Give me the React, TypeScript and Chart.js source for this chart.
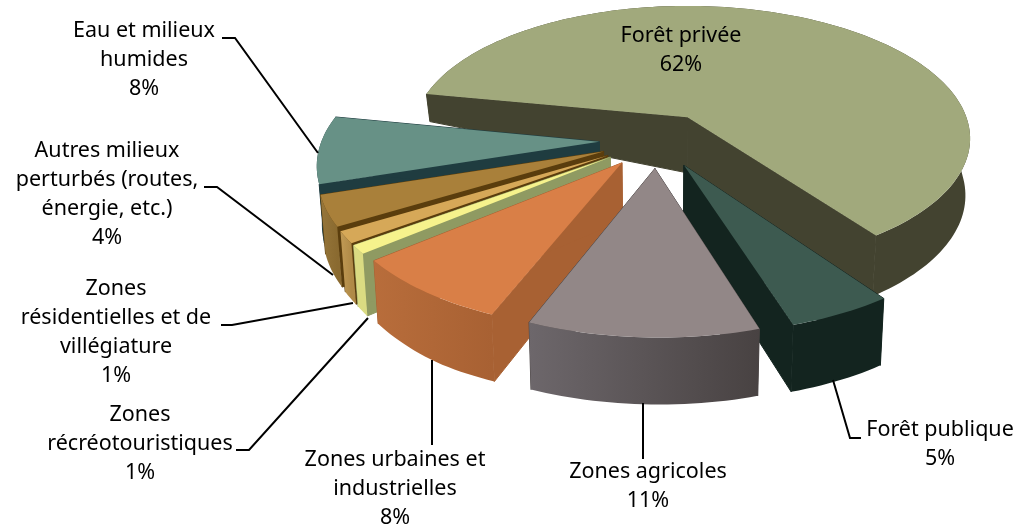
import React, { useEffect, useRef } from "react";
import { Chart, registerables } from "chart.js";

Chart.register(...registerables);

const categories = [
  "Forêt privée",
  "Forêt publique",
  "Zones agricoles",
  "Zones urbaines et industrielles",
  "Zones récréotouristiques",
  "Zones résidentielles et de villégiature",
  "Autres milieux perturbés (routes, énergie, etc.)",
  "Eau et milieux humides",
];
const values = [62, 5, 11, 8, 1, 1.4, 3.6, 8];

const topColors = ["#A1A97C", "#3D5A50", "#928787", "#D97F47", "#F6F28C", "#D6A858", "#A9803A", "#679186"];
const wallColors = ["#434330", "#13241F", "#4C4646", "#A86133", "#8F9A62", "#5A3D0D", "#5A3D0D", "#1F3C40"];
const outerLeft = ["#434330", "#13241F", "#6D676B", "#B86D3B", "#DADB82", "#C19A55", "#96763A", "#1F3C40"];
const outerRight = ["#434330", "#13241F", "#484242", "#A86133", "#DADB82", "#B08A47", "#8A6A30", "#1F3C40"];

const labelLines = [
  ["Forêt privée"],
  ["Forêt publique"],
  ["Zones agricoles"],
  ["Zones urbaines et", "industrielles"],
  ["Zones", "récréotouristiques"],
  ["Zones", "résidentielles et de", "villégiature"],
  ["Autres milieux", "perturbés (routes,", "énergie, etc.)"],
  ["Eau et milieux", "humides"],
];
const labelCentreX = [681, 940, 648, 395, 140, 116, 107, 144];
const labelFirstY = [36, 430, 472, 460, 415, 289, 151, 31];
const leaders: number[][][] = [
  [],
  [[833, 380], [850, 438], [861, 438]],
  [[643, 403], [643, 459]],
  [[432, 360], [432, 445]],
  [[236, 450], [249, 450], [368, 318]],
  [[221, 325], [232, 325], [353, 303]],
  [[204, 187], [217, 187], [333, 275]],
  [[222, 38], [235, 38], [318, 153]],
];

const FONT = '21.5px "Noto Sans"';
const LINE_H = 29;
const TILT = 0.476;
const PERSP_V = 0.15;
const PERSP_U = 0.012;
const BOTTOM_X = 0.985;

const depth = (v: number) => {
  if (v < -0.17) return Math.max(10, 56 + 147 * (v + 0.17));
  if (v < 0.7) return 56 + ((v + 0.17) / 0.87) * 5;
  return Math.min(67, 61 + (v - 0.7) * 20);
};

const pie3d = {
  id: "pie3d",
  beforeDatasetsDraw(chart: any) {
    const ctx = chart.ctx as CanvasRenderingContext2D;
    const arcs = chart.getDatasetMeta(0).data as any[];
    const order = arcs
      .map((a, i) => ({ i, k: Math.sin((a.startAngle + a.endAngle) / 2) }))
      .sort((p, q) => p.k - q.k);

    for (const { i } of order) {
      const a = arcs[i];
      const R = a.outerRadius;
      const off = (a.options.offset || 0) / R;
      const mid = (a.startAngle + a.endAngle) / 2;
      const ou = Math.cos(mid) * off;
      const ov = Math.sin(mid) * off;
      const project = (u: number, v: number) => {
        const w = 1 - PERSP_V * v - PERSP_U * u;
        const x = a.x + (R * u) / w;
        const y = a.y + (R * TILT * v) / w;
        return {
          x,
          y,
          bx: a.x + (x - a.x) * BOTTOM_X,
          by: y + depth(v),
        };
      };
      const vertex = project(ou, ov);
      const steps = Math.max(4, Math.ceil((a.endAngle - a.startAngle) * 40));
      const rim: any[] = [];
      for (let s = 0; s <= steps; s++) {
        const t = a.startAngle + ((a.endAngle - a.startAngle) * s) / steps;
        rim.push(project(ou + Math.cos(t), ov + Math.sin(t)));
      }
      ctx.lineWidth = 1;
      ctx.lineJoin = "round";
      const quad = (p: any) => {
        ctx.beginPath();
        ctx.moveTo(vertex.x, vertex.y);
        ctx.lineTo(p.x, p.y);
        ctx.lineTo(p.bx, p.by);
        ctx.lineTo(vertex.bx, vertex.by);
        ctx.closePath();
        ctx.fillStyle = wallColors[i];
        ctx.strokeStyle = wallColors[i];
        ctx.fill();
        ctx.stroke();
      };
      quad(rim[0]);
      quad(rim[rim.length - 1]);

      const xs = rim.map((p) => p.x);
      const g = ctx.createLinearGradient(Math.min(...xs), 0, Math.max(...xs), 0);
      g.addColorStop(0, outerLeft[i]);
      g.addColorStop(1, outerRight[i]);
      ctx.beginPath();
      rim.forEach((p, n) => (n ? ctx.lineTo(p.x, p.y) : ctx.moveTo(p.x, p.y)));
      for (let n = rim.length - 1; n >= 0; n--) ctx.lineTo(rim[n].bx, rim[n].by);
      ctx.closePath();
      ctx.fillStyle = g;
      ctx.fill();

      ctx.beginPath();
      ctx.moveTo(vertex.x, vertex.y);
      rim.forEach((p) => ctx.lineTo(p.x, p.y));
      ctx.closePath();
      ctx.fillStyle = topColors[i];
      ctx.fill();
    }

    ctx.strokeStyle = "#000";
    ctx.lineWidth = 2;
    ctx.lineJoin = "miter";
    for (const path of leaders) {
      if (!path.length) continue;
      ctx.beginPath();
      path.forEach(([x, y], n) => (n ? ctx.lineTo(x, y) : ctx.moveTo(x, y)));
      ctx.stroke();
    }

    ctx.font = FONT;
    ctx.fillStyle = "#000";
    ctx.textAlign = "center";
    ctx.textBaseline = "middle";
    categories.forEach((_, i) => {
      const lines = [...labelLines[i], `${Math.round(values[i])}%`];
      lines.forEach((l, n) => ctx.fillText(l, labelCentreX[i], labelFirstY[i] + n * LINE_H));
    });
    return false;
  },
};

export default function App() {
  const ref = useRef<HTMLCanvasElement>(null);
  useEffect(() => {
    const chart = new Chart(ref.current!, {
      type: "pie",
      data: {
        labels: categories,
        datasets: [{ data: values, backgroundColor: topColors, borderWidth: 0, offset: 58 }],
      },
      options: {
        animation: false,
        responsive: false,
        rotation: 281,
        radius: 282,
        layout: { padding: { left: 295, bottom: 247, right: 0, top: 0 } },
        plugins: { legend: { display: false }, tooltip: { enabled: false } },
      },
      plugins: [pie3d],
    } as any);
    return () => chart.destroy();
  }, []);
  return (
    <div style={{ position: "absolute", left: 0, top: 0, width: 1019, height: 527, background: "#fff" }}>
      <canvas ref={ref} width={1019} height={527} style={{ display: "block" }} />
    </div>
  );
}
